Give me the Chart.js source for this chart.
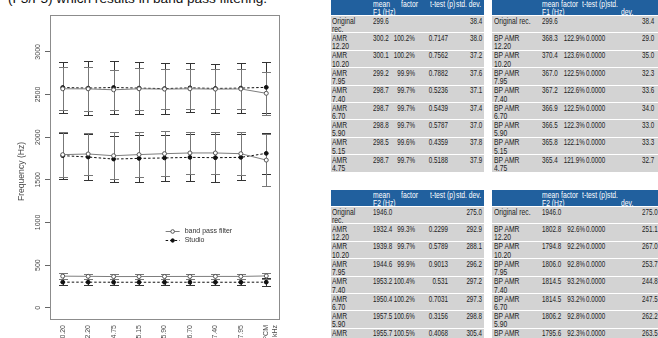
<!DOCTYPE html>
<html>
<head>
<meta charset="utf-8">
<script src="https://cdn.jsdelivr.net/npm/chart.js@4.4.0/dist/chart.umd.min.js"></script>
<style>
  html, body { margin: 0; padding: 0; width: 658px; height: 338px; overflow: hidden; background: #fff;
    font-family: "Liberation Sans", Arial, sans-serif; }
  #lead { position: absolute; left: 8px; top: -8px; font-size: 13.6px; line-height: 13.6px; color: #111; white-space: nowrap; }
  #plotBox { position: absolute; left: 0; top: 0; width: 330px; height: 372px; }
  .tbl { position: absolute; font-size: 8.8px; line-height: 8.4px; color: #222; }
  .hdr { position: absolute; left: 0; background: #21609e; color: #fff; }
  .row { position: absolute; left: 0; background: #d3d3d3; }
  .cell { position: absolute; top: 0.5px; white-space: nowrap; transform: scaleX(0.77); transform-origin: 0 0; }
  .cell.num { transform: scaleX(0.71); }
  .cell.r { transform-origin: 100% 0; text-align: right; }
</style>
</head>
<body>
<div id="lead">(F3/F5) which results in band pass filtering.</div>
<div id="plotBox"><canvas id="chart"></canvas></div>
<div id="tables"></div>
<script>
// ---- plotted formant data (mean and standard deviation per condition) ----
const categories = ["AMR 10.20", "AMR 12.20", "AMR 4.75", "AMR 5.15", "AMR 5.90", "AMR 6.70", "AMR 7.40", "AMR 7.95", ["PCM", "44.1 kHz"]];
const bandF1   = [370.4, 368.3, 365.4, 365.8, 366.5, 366.9, 367.2, 367.0, 373];
const bandF1sd = [35.0, 29.0, 32.7, 33.3, 33.0, 34.0, 33.6, 32.3, 36];
const bandF2   = [1794.8, 1802.8, 1782, 1795.6, 1806.2, 1814.5, 1814.5, 1806.0, 1731];
const bandF2sd = [267.0, 251.1, 273, 263, 262.2, 247.5, 244.8, 253.7, 304];
const bandF3   = [2567, 2566, 2555, 2567, 2563, 2567, 2563, 2565, 2514];
const bandF3sd = [252, 257, 234, 244, 234, 234, 234, 236, 252];
const studioF1   = [300, 300, 299, 299, 299, 299, 299, 299, 300];
const studioF1sd = [38, 38, 38, 37, 37, 37, 37, 38, 45];
const studioF2   = [1783, 1767, 1743, 1751, 1756, 1763, 1759, 1763, 1810];
const studioF2sd = [269, 272, 274, 277, 269, 273, 280, 269, 239];
const studioF3   = [2582, 2575, 2582, 2575, 2569, 2578, 2571, 2575, 2584];
const studioF3sd = [302, 312, 312, 302, 298, 289, 289, 293, 302];
const yTicks = [0, 500, 1000, 1500, 2000, 2500, 3000];
const yRange = [-132, 3432];

// ---- table contents ----
const amrHeadF1 = [["mean<br>F1 (Hz)", 41.7], ["factor", 69.7], ["t-test (p)", 99], ["std. dev.", 124.5]];
const amrHeadF2 = [["mean<br>F2 (Hz)", 41.7], ["factor", 69.7], ["t-test (p)", 99], ["std. dev.", 124.5]];
const bpHeadF1 = [["mean<br>F1 (Hz)", 49.7], ["factor", 69], ["t-test (p)", 90.3], ["std.", 115], ["<br>dev.", 128.7]];
const bpHeadF2 = [["mean<br>F2 (Hz)", 49.7], ["factor", 69], ["t-test (p)", 90.3], ["std.", 115], ["<br>dev.", 128.7]];
const amrNames = ["Original<br>rec.", "AMR<br>12.20", "AMR<br>10.20", "AMR<br>7.95", "AMR<br>7.40", "AMR<br>6.70", "AMR<br>5.90", "AMR<br>5.15", "AMR<br>4.75"];
const bpNames = ["Original rec.", "BP AMR<br>12.20", "BP AMR<br>10.20", "BP AMR<br>7.95", "BP AMR<br>7.40", "BP AMR<br>6.70", "BP AMR<br>5.90", "BP AMR<br>5.15", "BP AMR<br>4.75"];
const f1AmrMean = ["299.6", "300.2", "300.1", "299.2", "298.7", "298.7", "298.8", "298.5", "298.7"];
const f1AmrFactor = ["", "100.2%", "100.2%", "99.9%", "99.7%", "99.7%", "99.7%", "99.6%", "99.7%"];
const f1AmrP = ["", "0.7147", "0.7562", "0.7882", "0.5236", "0.5439", "0.5787", "0.4359", "0.5188"];
const f1AmrSd = ["38.4", "38.0", "37.2", "37.6", "37.1", "37.4", "37.0", "37.8", "37.9"];
const f1BpMean = ["299.6", "368.3", "370.4", "367.0", "367.2", "366.9", "366.5", "365.8", "365.4"];
const f1BpFactor = ["", "122.9%", "123.6%", "122.5%", "122.6%", "122.5%", "122.3%", "122.1%", "121.9%"];
const f1BpP = ["", "0.0000", "0.0000", "0.0000", "0.0000", "0.0000", "0.0000", "0.0000", "0.0000"];
const f1BpSd = ["38.4", "29.0", "35.0", "32.3", "33.6", "34.0", "33.0", "33.3", "32.7"];
const f2AmrMean = ["1946.0", "1932.4", "1939.8", "1944.6", "1953.2", "1950.4", "1957.5", "1955.7"];
const f2AmrFactor = ["", "99.3%", "99.7%", "99.9%", "100.4%", "100.2%", "100.6%", "100.5%"];
const f2AmrP = ["", "0.2299", "0.5789", "0.9013", "0.531", "0.7031", "0.3156", "0.4068"];
const f2AmrSd = ["275.0", "292.9", "288.1", "296.2", "297.2", "297.3", "298.8", "305.4"];
const f2BpMean = ["1946.0", "1802.8", "1794.8", "1806.0", "1814.5", "1814.5", "1806.2", "1795.6"];
const f2BpFactor = ["", "92.6%", "92.2%", "92.8%", "93.2%", "93.2%", "92.8%", "92.3%"];
const f2BpP = ["", "0.0000", "0.0000", "0.0000", "0.0000", "0.0000", "0.0000", "0.0000"];
const f2BpSd = ["275.0", "251.1", "267.0", "253.7", "244.8", "247.5", "262.2", "263.5"];

// ---- tables ----
function buildTable(opts) {
  const t = document.createElement('div');
  t.className = 'tbl';
  t.style.left = opts.left + 'px';
  t.style.top = opts.top + 'px';
  const hdr = document.createElement('div');
  hdr.className = 'hdr';
  hdr.style.width = opts.width + 'px';
  hdr.style.height = opts.headH + 'px';
  opts.head.forEach(([txt, hx]) => {
    const c = document.createElement('div');
    c.className = 'cell';
    c.style.left = hx + 'px';
    c.style.top = opts.headY + 'px';
    c.innerHTML = txt;
    hdr.appendChild(c);
  });
  t.appendChild(hdr);
  opts.names.forEach((name, r) => {
    const row = document.createElement('div');
    row.className = 'row';
    row.style.top = (opts.headH + 1 + r * opts.rowH) + 'px';
    row.style.width = opts.width + 'px';
    row.style.height = (opts.rowH - 1) + 'px';
    const cells = [name, opts.mean[r], opts.factor[r], opts.p[r], opts.sd[r]];
    cells.forEach((txt, i) => {
      const c = document.createElement('div');
      c.className = 'cell';
      if (i > 0) c.classList.add('num');
      c.innerHTML = txt;
      const col = opts.cols[i];
      if (col.align === 'right') { c.classList.add('r'); c.style.right = (opts.width - col.x) + 'px'; }
      else { c.style.left = col.x + 'px'; }
      row.appendChild(c);
    });
    t.appendChild(row);
  });
  document.getElementById('tables').appendChild(t);
}

const amrCols = [{x: 1}, {x: 41.7}, {x: 84, align: 'right'}, {x: 117, align: 'right'}, {x: 151, align: 'right'}];
const bpCols = [{x: 1.5}, {x: 49.7}, {x: 93, align: 'right'}, {x: 94}, {x: 149.7}];
buildTable({left: 331, top: -1, width: 153, headH: 16, headY: 1, rowH: 17.4,
  head: amrHeadF1, names: amrNames, mean: f1AmrMean, factor: f1AmrFactor, p: f1AmrP, sd: f1AmrSd, cols: amrCols});
buildTable({left: 492, top: -1, width: 180, headH: 16, headY: 1, rowH: 17.4,
  head: bpHeadF1, names: bpNames, mean: f1BpMean, factor: f1BpFactor, p: f1BpP, sd: f1BpSd, cols: bpCols});
buildTable({left: 331, top: 190, width: 153, headH: 16, headY: 1, rowH: 17.4,
  head: amrHeadF2, names: amrNames.slice(0, 8), mean: f2AmrMean, factor: f2AmrFactor, p: f2AmrP, sd: f2AmrSd, cols: amrCols});
buildTable({left: 492, top: 190, width: 180, headH: 16, headY: 1, rowH: 17.4,
  head: bpHeadF2, names: bpNames.slice(0, 8), mean: f2BpMean, factor: f2BpFactor, p: f2BpP, sd: f2BpSd, cols: bpCols});

// ---- chart ----
const BAND = '#7d7d7d';
const STUDIO = '#111111';
const TEXT = '#4a4a4a';

function lineSet(label, data, band) {
  return {
    label, data,
    borderColor: band ? BAND : STUDIO,
    borderWidth: 1,
    borderDash: band ? [] : [2.5, 2],
    pointRadius: band ? 2 : 1.9,
    pointBorderWidth: 1,
    pointBorderColor: band ? '#555' : STUDIO,
    pointBackgroundColor: band ? '#ffffff' : STUDIO,
    pointHoverRadius: 2,
    tension: 0,
    order: band ? 1 : 2
  };
}

const errorSets = [
  {mean: studioF1, sd: studioF1sd, color: '#333'},
  {mean: studioF2, sd: studioF2sd, color: '#333'},
  {mean: studioF3, sd: studioF3sd, color: '#333'},
  {mean: bandF1, sd: bandF1sd, color: '#777'},
  {mean: bandF2, sd: bandF2sd, color: '#777'},
  {mean: bandF3, sd: bandF3sd, color: '#777'}
];

const decorations = {
  id: 'decorations',
  beforeDatasetsDraw(chart) {
    const {ctx, scales: {x, y}} = chart;
    ctx.save();
    ctx.lineWidth = 1;
    errorSets.forEach(set => {
      ctx.strokeStyle = set.color;
      set.mean.forEach((m, i) => {
        const px = Math.round(x.getPixelForValue(i)) + 0.5;
        const top = Math.round(y.getPixelForValue(m + set.sd[i])) + 0.5;
        const bot = Math.round(y.getPixelForValue(m - set.sd[i])) + 0.5;
        ctx.beginPath();
        ctx.moveTo(px, top); ctx.lineTo(px, bot);
        ctx.moveTo(px - 4.5, top); ctx.lineTo(px + 4.5, top);
        ctx.moveTo(px - 4.5, bot); ctx.lineTo(px + 4.5, bot);
        ctx.stroke();
      });
    });
    ctx.restore();
  },
  afterDraw(chart) {
    const {ctx, chartArea: a, scales: {y}} = chart;
    ctx.save();
    // plot frame
    ctx.strokeStyle = '#8c8c8c';
    ctx.lineWidth = 1;
    ctx.strokeRect(Math.round(a.left) + 0.5, Math.round(a.top) + 0.5, Math.round(a.right - a.left), Math.round(a.bottom - a.top));
    // y tick labels, written along the axis
    ctx.fillStyle = TEXT;
    ctx.font = '7px "Liberation Sans", Arial, sans-serif';
    ctx.textAlign = 'center';
    ctx.textBaseline = 'middle';
    yTicks.forEach(v => {
      ctx.save();
      ctx.translate(a.left - 11.5, y.getPixelForValue(v));
      ctx.rotate(-Math.PI / 2);
      ctx.fillText(String(v), 0, 0);
      ctx.restore();
    });
    // axis title
    ctx.save();
    ctx.font = '8.6px "Liberation Sans", Arial, sans-serif';
    ctx.translate(a.left - 28.5, (a.top + a.bottom) / 2 + 4.5);
    ctx.rotate(-Math.PI / 2);
    ctx.fillText('Frequency (Hz)', 0, 0);
    ctx.restore();
    // legend
    const lx = a.left + (a.right - a.left) * 0.505;
    const ly = a.top + (a.bottom - a.top) * 0.712;
    const items = [
      {text: 'band pass filter', band: true},
      {text: 'Studio', band: false}
    ];
    ctx.font = '7px "Liberation Sans", Arial, sans-serif';
    ctx.textAlign = 'left';
    items.forEach((it, k) => {
      const yy = Math.round(ly + k * 9) + 0.5;
      ctx.beginPath();
      ctx.strokeStyle = it.band ? BAND : STUDIO;
      ctx.setLineDash(it.band ? [] : [2.5, 2]);
      ctx.moveTo(lx, yy); ctx.lineTo(lx + 14, yy);
      ctx.stroke();
      ctx.setLineDash([]);
      ctx.beginPath();
      ctx.arc(lx + 7, yy, it.band ? 1.8 : 1.7, 0, Math.PI * 2);
      ctx.fillStyle = it.band ? '#fff' : STUDIO;
      ctx.fill();
      ctx.strokeStyle = it.band ? '#555' : STUDIO;
      ctx.stroke();
      ctx.fillStyle = '#333';
      ctx.fillText(it.text, lx + 19, yy);
    });
    ctx.restore();
  }
};

new Chart(document.getElementById('chart'), {
  type: 'line',
  data: {
    labels: categories,
    datasets: [
      lineSet('band pass filter F1', bandF1, true),
      lineSet('band pass filter F2', bandF2, true),
      lineSet('band pass filter F3', bandF3, true),
      lineSet('Studio F1', studioF1, false),
      lineSet('Studio F2', studioF2, false),
      lineSet('Studio F3', studioF3, false)
    ]
  },
  options: {
    responsive: true,
    maintainAspectRatio: false,
    animation: false,
    events: [],
    layout: {padding: {top: 15, right: 51, left: 0, bottom: 0}},
    plugins: {legend: {display: false}, tooltip: {enabled: false}, title: {display: false}},
    scales: {
      x: {
        type: 'category',
        offset: true,
        grid: {display: false, drawTicks: false},
        border: {display: false},
        ticks: {
          autoSkip: false, minRotation: 90, maxRotation: 90, padding: 6,
          color: TEXT, font: {family: '"Liberation Sans", Arial, sans-serif', size: 7}
        },
        afterFit(s) { s.height = 53; }
      },
      y: {
        min: yRange[0], max: yRange[1],
        grid: {drawOnChartArea: false, tickLength: 5, color: '#666', tickColor: '#666'},
        border: {display: false},
        ticks: {display: false},
        afterBuildTicks(s) { s.ticks = yTicks.map(v => ({value: v})); },
        afterFit(s) { s.width = 50; }
      }
    }
  },
  plugins: [decorations]
});
</script>
</body>
</html>
